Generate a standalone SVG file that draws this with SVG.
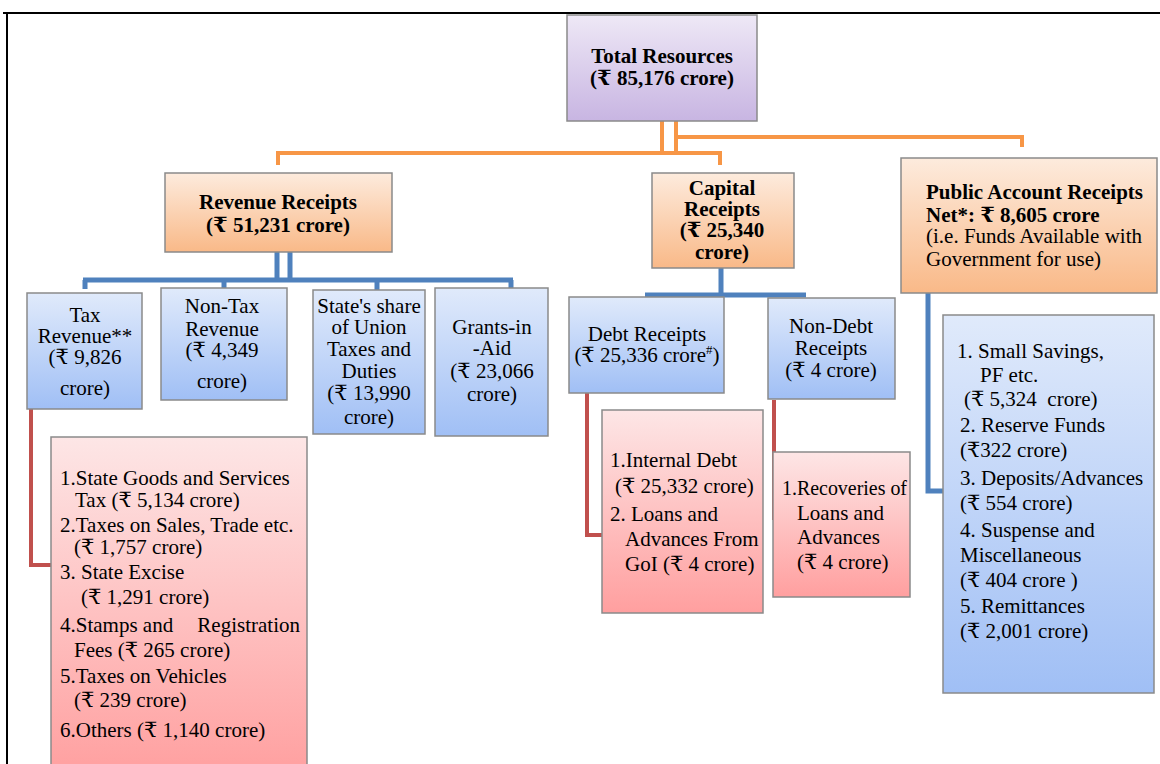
<svg xmlns="http://www.w3.org/2000/svg" width="1160" height="764" viewBox="0 0 1160 764">
<defs>
<linearGradient id="gPurple" x1="0" y1="0" x2="0" y2="1"><stop offset="0" stop-color="#eee8f6"/><stop offset="1" stop-color="#c8b5e2"/></linearGradient>
<linearGradient id="gOrange" x1="0" y1="0" x2="0" y2="1"><stop offset="0" stop-color="#fdebdd"/><stop offset="1" stop-color="#f9b988"/></linearGradient>
<linearGradient id="gBlue" x1="0" y1="0" x2="0" y2="1"><stop offset="0" stop-color="#e0eafb"/><stop offset="1" stop-color="#a0bff5"/></linearGradient>
<linearGradient id="gPink" x1="0" y1="0" x2="0" y2="1"><stop offset="0" stop-color="#fde6e6"/><stop offset="1" stop-color="#ff9f9f"/></linearGradient>
</defs>
<style>
text{font-family:"Liberation Serif","DejaVu Serif","Noto Sans",serif;font-size:21px;fill:#000}
.b{font-weight:bold}
.c{text-anchor:middle}
.box{stroke:#8a8a8a;stroke-width:1.5}
.or{stroke:#f79646;stroke-width:4;fill:none}
.bl{stroke:#4f81bd;stroke-width:5;fill:none}
.rd{stroke:#c0504d;stroke-width:4;fill:none}
</style>
<rect width="1160" height="764" fill="#fff"/>
<g id="frame"><path d="M3 13H1160M7 13V764" stroke="#000" stroke-width="2" fill="none"/></g>
<g id="connectors">
<path class="or" d="M662 121V153M676 121V153M276 153H722M278 153V165M720 153V165M676 137H1022V147"/>
<path class="bl" d="M277 252V280M290 252V280M83 280H513M85 280V289M224 280V289M377 280V291M511 280V289"/>
<path class="bl" d="M721 268V295M645 295H806"/>
<path class="bl" d="M928 292V491H943"/>
<path class="rd" d="M31 409V565H52"/>
<path class="rd" d="M587 393V535H602"/>
<path class="rd" d="M774 400V520"/>
</g>
<g id="total"><rect class="box" x="567" y="15" width="190" height="106" fill="url(#gPurple)"/>
<text class="b c" x="662" y="63">Total Resources</text><text class="b c" x="662" y="85">(₹ 85,176 crore)</text></g>
<g id="revenue"><rect class="box" x="165" y="173" width="227" height="79" fill="url(#gOrange)"/>
<text class="b c" x="278" y="209">Revenue Receipts</text><text class="b c" x="278" y="232">(₹ 51,231 crore)</text></g>
<g id="capital"><rect class="box" x="652" y="173" width="142" height="95" fill="url(#gOrange)"/>
<text class="b c" x="722" y="195">Capital</text><text class="b c" x="722" y="216">Receipts</text><text class="b c" x="722" y="237">(₹ 25,340</text><text class="b c" x="722" y="259">crore)</text></g>
<g id="public"><rect class="box" x="901" y="158" width="256" height="135" fill="url(#gOrange)"/>
<text class="b" x="926" y="199">Public Account Receipts</text><text class="b" x="926" y="222">Net*: ₹ 8,605 crore</text><text x="926" y="243">(i.e. Funds Available with</text><text x="926" y="266">Government for use)</text></g>
<g id="tax"><rect class="box" x="27" y="293" width="115" height="116" fill="url(#gBlue)"/>
<text class="c" x="85" y="322">Tax</text><text class="c" x="85" y="343">Revenue**</text><text class="c" x="85" y="364">(₹ 9,826</text><text class="c" x="85" y="395">crore)</text></g>
<g id="nontax"><rect class="box" x="161" y="288" width="126" height="112" fill="url(#gBlue)"/>
<text class="c" x="222" y="313">Non-Tax</text><text class="c" x="222" y="336">Revenue</text><text class="c" x="222" y="357">(₹ 4,349</text><text class="c" x="222" y="388">crore)</text></g>
<g id="stateshare"><rect class="box" x="313" y="290" width="112" height="144" fill="url(#gBlue)"/>
<text class="c" x="369" y="313">State's share</text><text class="c" x="369" y="334">of Union</text><text class="c" x="369" y="356">Taxes and</text><text class="c" x="369" y="378">Duties</text><text class="c" x="369" y="400">(₹ 13,990</text><text class="c" x="369" y="424">crore)</text></g>
<g id="grants"><rect class="box" x="435" y="288" width="113" height="148" fill="url(#gBlue)"/>
<text class="c" x="492" y="334">Grants-in</text><text class="c" x="492" y="355">-Aid</text><text class="c" x="492" y="378">(₹ 23,066</text><text class="c" x="492" y="401">crore)</text></g>
<g id="debt"><rect class="box" x="569" y="297" width="155" height="96" fill="url(#gBlue)"/>
<text class="c" x="647" y="341">Debt Receipts</text><text class="c" x="647" y="362">(₹ 25,336 crore<tspan font-size="13" dy="-8">#</tspan><tspan dy="8">)</tspan></text></g>
<g id="nondebt"><rect class="box" x="768" y="298" width="127" height="101" fill="url(#gBlue)"/>
<text class="c" x="831" y="333">Non-Debt</text><text class="c" x="831" y="355">Receipts</text><text class="c" x="831" y="377">(₹ 4 crore)</text></g>
<g id="taxlist"><rect class="box" x="51" y="437" width="256" height="340" fill="url(#gPink)"/>
<text x="60" y="485">1.State Goods and Services</text>
<text x="75" y="507">Tax (₹ 5,134 crore)</text>
<text x="60" y="532">2.Taxes on Sales, Trade etc.</text>
<text x="74" y="554">(₹ 1,757 crore)</text>
<text x="60" y="579">3. State Excise</text>
<text x="81" y="604">(₹ 1,291 crore)</text>
<text x="60" y="632">4.Stamps and</text><text x="300" y="632" text-anchor="end">Registration</text>
<text x="74" y="657">Fees (₹ 265 crore)</text>
<text x="60" y="683">5.Taxes on Vehicles</text>
<text x="74" y="707">(₹ 239 crore)</text>
<text x="60" y="737">6.Others (₹ 1,140 crore)</text></g>
<g id="debtlist"><rect class="box" x="602" y="410" width="161" height="203" fill="url(#gPink)"/>
<text x="610" y="467">1.Internal Debt</text>
<text x="615" y="493">(₹ 25,332 crore)</text>
<text x="610" y="521">2. Loans and</text>
<text x="625" y="546">Advances From</text>
<text x="625" y="571">GoI (₹ 4 crore)</text></g>
<g id="nondebtlist"><rect class="box" x="773" y="452" width="137" height="145" fill="url(#gPink)"/>
<text x="782" y="495" textLength="125" lengthAdjust="spacingAndGlyphs">1.Recoveries of</text>
<text x="797" y="520">Loans and</text>
<text x="797" y="544">Advances</text>
<text x="797" y="569">(₹ 4 crore)</text></g>
<g id="publiclist"><rect class="box" x="943" y="315" width="211" height="378" fill="url(#gBlue)"/>
<text x="957" y="358">1. Small Savings,</text>
<text x="980" y="382">PF etc.</text>
<text x="964" y="406" xml:space="preserve">(₹ 5,324  crore)</text>
<text x="960" y="432">2. Reserve Funds</text>
<text x="960" y="457">(₹322 crore)</text>
<text x="960" y="485">3. Deposits/Advances</text>
<text x="960" y="510">(₹ 554 crore)</text>
<text x="960" y="537">4. Suspense and</text>
<text x="960" y="562">Miscellaneous</text>
<text x="960" y="587">(₹ 404 crore )</text>
<text x="960" y="613">5. Remittances</text>
<text x="960" y="638">(₹ 2,001 crore)</text></g>
</svg>
